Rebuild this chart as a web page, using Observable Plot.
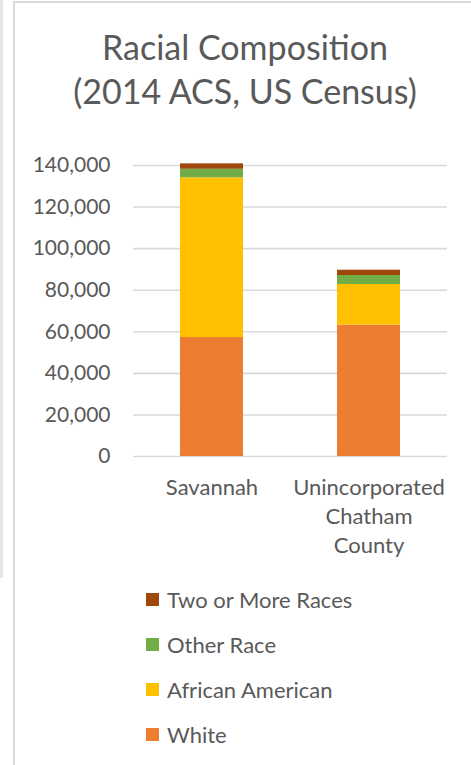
<!DOCTYPE html>
<html>
<head>
<meta charset="utf-8">
<script src="https://cdn.jsdelivr.net/npm/d3@7"></script>
<script src="https://cdn.jsdelivr.net/npm/@observablehq/plot@0.6"></script>
<style>
  html, body { margin: 0; padding: 0; background: #fff; }
  #page { position: relative; width: 471px; height: 765px; overflow: hidden; font-family: Lato, sans-serif; color: #595959; }
  #edge { position: absolute; left: 0; top: 0; width: 3px; height: 578px; background: #e6e6e6; }
  #frame { position: absolute; left: 13px; top: 1px; right: -5px; bottom: -5px; border-left: 2px solid #d9d9d9; border-top: 2px solid #d9d9d9; }
  .title { position: absolute; left: 20px; width: 450px; text-align: center; font-size: 34px; line-height: 44px; height: 44px; white-space: nowrap; }
  #chart { position: absolute; left: 0; top: 130px; }
  .item { position: absolute; left: 146px; height: 30px; display: flex; align-items: center; font-size: 22px; }
  .sw { width: 13px; height: 13px; margin-right: 8px; }
</style>
</head>
<body>
<div id="page">
  <div id="edge"></div>
  <div id="frame"></div>
  <div class="title" style="top:25px">Racial Composition</div>
  <div class="title" style="top:69px">(2014 ACS, US Census)</div>
  <div id="chart"></div>
  <div id="legend"></div>
</div>
<script>
const categories = ["Savannah", "Unincorporated Chatham County"];
const categoryLabels = ["Savannah", "Unincorporated\nChatham\nCounty"];
const races = ["White", "African American", "Other Race", "Two or More Races"];
const white = [57250, 63170];
const africanAmerican = [76830, 19580];
const otherRace = [4120, 4330];
const twoOrMore = [2600, 2550];
const yTicks = [0, 20000, 40000, 60000, 80000, 100000, 120000, 140000];
const colors = ["#ED7D31", "#FFC000", "#70AD47", "#9E480E"];
const legendOrder = ["Two or More Races", "Other Race", "African American", "White"];

const series = [white, africanAmerican, otherRace, twoOrMore];
const data = [];
categories.forEach((c, i) => {
  races.forEach((r, j) => data.push({category: c, race: r, value: series[j][i]}));
});

const chart = Plot.plot({
  width: 471,
  height: 430,
  marginLeft: 133,
  marginRight: 24,
  marginTop: 35,
  marginBottom: 104,
  style: {fontFamily: "Lato, sans-serif", color: "#595959", background: "transparent"},
  x: {domain: categories, paddingInner: 0.6, paddingOuter: 0.3},
  y: {domain: [0, 140000]},
  color: {domain: races, range: colors},
  marks: [
    Plot.gridY(yTicks, {stroke: "#d9d9d9", strokeOpacity: 1, strokeWidth: 1.6}),
    Plot.barY(data, {x: "category", y: "value", fill: "race", order: races}),
    Plot.axisY(yTicks, {tickSize: 0, tickPadding: 23, tickFormat: d3.format(","), fontSize: 21, fill: "#595959", label: null}),
    Plot.axisX({tickSize: 0, tickPadding: 18, tickFormat: d => categoryLabels[categories.indexOf(d)], fontSize: 22, lineHeight: 1.32, fill: "#595959", label: null})
  ]
});
document.getElementById("chart").appendChild(chart);

const legend = document.getElementById("legend");
legendOrder.forEach((r, i) => {
  const item = document.createElement("div");
  item.className = "item";
  item.style.top = (584 + i * 45) + "px";
  const sw = document.createElement("div");
  sw.className = "sw";
  sw.style.background = colors[races.indexOf(r)];
  const t = document.createElement("span");
  t.textContent = r;
  item.appendChild(sw);
  item.appendChild(t);
  legend.appendChild(item);
});
</script>
</body>
</html>
